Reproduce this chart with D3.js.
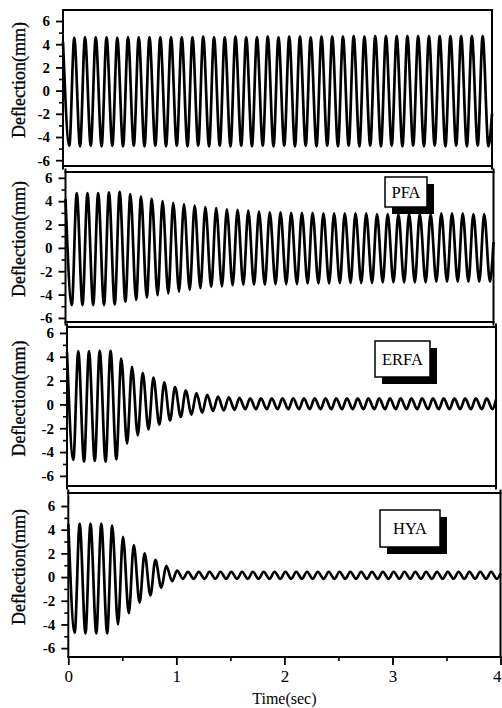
<!DOCTYPE html>
<html lang="en">
<head>
<meta charset="UTF-8">
<title>Deflection</title>
<style>
  body { margin: 0; background: #fff; }
  svg { display: block; }
  text { font-family: "Liberation Serif", "Times New Roman", serif; fill: #000; }
</style>
</head>
<body>
<script src="https://d3js.org/d3.v7.min.js"></script>
<script>
  // turning points of the response, in seconds: start, trough/peak pairs, end
  const timeSec = [
    0,
    0.059, 0.105, 0.159, 0.205, 0.259, 0.305, 0.360, 0.406, 0.460, 0.506, 0.560, 0.606, 0.660, 0.706, 0.760, 0.806, 0.861, 0.907, 0.961, 1.007,
    1.061, 1.107, 1.161, 1.207, 1.261, 1.307, 1.362, 1.408, 1.462, 1.508, 1.562, 1.608, 1.662, 1.708, 1.762, 1.808, 1.863, 1.909, 1.963, 2.009,
    2.063, 2.109, 2.163, 2.209, 2.263, 2.309, 2.364, 2.410, 2.464, 2.510, 2.564, 2.610, 2.664, 2.710, 2.764, 2.810, 2.865, 2.911, 2.965, 3.011,
    3.065, 3.111, 3.165, 3.211, 3.265, 3.311, 3.366, 3.412, 3.466, 3.512, 3.566, 3.612, 3.666, 3.712, 3.766, 3.812, 3.867, 3.913,
    3.967, 4.0
  ]

  // deflection (mm) at those turning points
  const noControl = [
    4.2,
    -4.75, 4.55, -4.8, 4.6, -4.75, 4.6, -4.8, 4.6, -4.75, 4.55, -4.8, 4.6, -4.75, 4.6, -4.8, 4.6, -4.75, 4.6, -4.8, 4.6,
    -4.75, 4.6, -4.8, 4.6, -4.75, 4.65, -4.8, 4.6, -4.75, 4.6, -4.8, 4.65, -4.75, 4.6, -4.8, 4.6, -4.75, 4.65, -4.8, 4.6,
    -4.75, 4.65, -4.8, 4.65, -4.75, 4.6, -4.8, 4.65, -4.75, 4.65, -4.8, 4.65, -4.75, 4.7, -4.8, 4.65, -4.75, 4.7, -4.8, 4.7,
    -4.75, 4.7, -4.8, 4.7, -4.75, 4.7, -4.8, 4.7, -4.75, 4.7, -4.8, 4.7, -4.75, 4.7, -4.8, 4.7, -4.75, 4.7,
    -4.8, -2.0
  ]

  const pfa = [
    4.2,
    -4.9, 4.7, -4.9, 4.7, -4.9, 4.7, -4.9, 4.75, -4.85, 4.8, -4.6, 4.6, -4.45, 4.4, -4.25, 4.2, -4.05, 4.0, -3.9, 3.85,
    -3.75, 3.75, -3.6, 3.65, -3.45, 3.5, -3.35, 3.4, -3.3, 3.3, -3.2, 3.25, -3.15, 3.2, -3.15, 3.1, -3.15, 3.05, -3.1, 3.05,
    -3.1, 3.0, -3.1, 3.0, -3.05, 3.0, -3.05, 2.95, -3.05, 2.95, -3.0, 2.95, -3.0, 2.95, -3.0, 2.95, -3.0, 2.9, -2.95, 2.9,
    -2.95, 2.9, -2.95, 2.9, -2.95, 2.9, -2.95, 2.9, -2.9, 2.95, -2.9, 2.95, -2.9, 2.95, -2.9, 2.9, -2.9, 2.9,
    -2.9, 0.5
  ]

  const erfa = [
    4.4,
    -4.65, 4.45, -4.8, 4.45, -4.75, 4.5, -4.8, 4.5, -4.6, 3.85, -3.3, 3.15, -2.6, 2.65, -2.1, 2.25, -1.7, 1.85, -1.35, 1.45,
    -1.05, 1.15, -0.85, 0.95, -0.7, 0.8, -0.55, 0.65, -0.5, 0.6, -0.45, 0.55, -0.4, 0.5, -0.4, 0.5, -0.4, 0.5, -0.4, 0.5,
    -0.4, 0.5, -0.4, 0.5, -0.4, 0.5, -0.4, 0.5, -0.4, 0.5, -0.4, 0.5, -0.4, 0.5, -0.4, 0.5, -0.4, 0.5, -0.4, 0.5,
    -0.4, 0.5, -0.4, 0.5, -0.4, 0.5, -0.4, 0.5, -0.4, 0.5, -0.4, 0.5, -0.4, 0.5, -0.4, 0.5, -0.4, 0.5,
    -0.4, 0.4
  ]

  const hya = [
    4.5,
    -4.7, 4.5, -4.75, 4.5, -4.75, 4.5, -4.75, 4.35, -4.0, 3.4, -3.05, 2.7, -2.15, 2.0, -1.55, 1.45, -0.9, 0.95, -0.35, 0.55,
    -0.15, 0.45, -0.15, 0.45, -0.15, 0.45, -0.15, 0.45, -0.15, 0.45, -0.15, 0.45, -0.15, 0.45, -0.15, 0.45, -0.15, 0.45, -0.15, 0.45,
    -0.15, 0.45, -0.15, 0.45, -0.15, 0.45, -0.15, 0.45, -0.15, 0.45, -0.15, 0.45, -0.15, 0.45, -0.15, 0.45, -0.15, 0.45, -0.15, 0.45,
    -0.15, 0.45, -0.15, 0.45, -0.15, 0.45, -0.15, 0.45, -0.15, 0.45, -0.15, 0.45, -0.15, 0.45, -0.15, 0.45, -0.15, 0.45,
    -0.15, 0.3
  ]

  const legendNames = [null, 'PFA', 'ERFA', 'HYA']
  const yTicks = [-6, -4, -2, 0, 2, 4, 6]
  const yMinorTicks = [-5, -3, -1, 1, 3, 5]
  const xTicks = [0, 1, 2, 3, 4]
  const xMinorTicks = [0.5, 1.5, 2.5, 3.5]
  const yLabel = 'Deflection(mm)'
  const xLabel = 'Time(sec)'

  const width = 502
  const height = 708

  // the scanned figure is a bit skewed, so each panel gets its own box
  const panels = [
    { top: 10, bottom: 166, left: 63, right: 492, yDomain: [-6.5, 6.95] },
    { top: 172, bottom: 322, left: 65.5, right: 493.5, yDomain: [-6.35, 6.5] },
    { top: 327, bottom: 486, left: 67, right: 496, yDomain: [-6.85, 6.5] },
    { top: 493, bottom: 657, left: 68.3, right: 500.5, yDomain: [-6.75, 7.1] }
  ]
  const legendBoxes = [null,
    { x: 385, y: 177, w: 42, h: 30 },
    { x: 375, y: 341, w: 55, h: 36 },
    { x: 380, y: 510, w: 60, h: 37 }]

  const allSeries = [noControl, pfa, erfa, hya]

  const svg = d3.select('body').append('svg')
    .attr('width', width)
    .attr('height', height)

  panels.forEach((p, i) => {
    const x = d3.scaleLinear().domain([0, 4]).range([p.left, p.right])
    const y = d3.scaleLinear().domain(p.yDomain).range([p.bottom, p.top])
    const g = svg.append('g')

    // response curve
    const line = d3.line()
      .x((d, j) => x(timeSec[j]))
      .y(d => y(d))
      .curve(d3.curveMonotoneX)

    g.append('path')
      .datum(allSeries[i])
      .attr('d', line)
      .attr('fill', 'none')
      .attr('stroke', '#000')
      .attr('stroke-width', 2.7)
      .attr('stroke-linejoin', 'round')

    // frame, side lines run into the gaps so they look continuous
    const yTop = i === 0 ? p.top : p.top - 3.5
    const yBot = i === panels.length - 1 ? p.bottom : p.bottom + 3.5
    const frame = g.append('g').attr('stroke', '#000').attr('stroke-width', 2)
    frame.append('line').attr('x1', p.left - 1).attr('x2', p.right + 1).attr('y1', p.top).attr('y2', p.top)
    frame.append('line').attr('x1', p.left - 1).attr('x2', p.right + 1).attr('y1', p.bottom).attr('y2', p.bottom)
    frame.append('line').attr('x1', p.left).attr('x2', p.left).attr('y1', yTop).attr('y2', yBot)
    frame.append('line').attr('x1', p.right).attr('x2', p.right).attr('y1', yTop).attr('y2', yBot)

    // y axis
    g.append('g')
      .attr('transform', `translate(${p.left},0)`)
      .call(d3.axisLeft(y).tickValues(yTicks).tickSize(7).tickPadding(6).tickFormat(d => String(d)))
      .attr('font-family', null)
      .attr('font-size', 15)
      .call(a => a.select('.domain').remove())
      .call(a => a.selectAll('line').attr('stroke-width', 1.8))
      .call(a => a.selectAll('text').attr('font-weight', 'bold'))

    g.append('g')
      .attr('transform', `translate(${p.left},0)`)
      .call(d3.axisLeft(y).tickValues(yMinorTicks).tickSize(4).tickFormat(''))
      .call(a => a.select('.domain').remove())
      .call(a => a.selectAll('line').attr('stroke-width', 1.6))

    g.append('text')
      .attr('transform', `translate(19,${(p.top + p.bottom) / 2 - 8}) rotate(-90)`)
      .attr('text-anchor', 'middle')
      .attr('dy', '0.35em')
      .attr('font-size', 18)
      .attr('stroke', '#000')
      .attr('stroke-width', 0.3)
      .text(yLabel)

    // x axis only under the last panel
    if (i === panels.length - 1) {
      g.append('g')
        .attr('transform', `translate(0,${p.bottom})`)
        .call(d3.axisBottom(x).tickValues(xTicks).tickSize(8).tickPadding(5).tickFormat(d => String(d)))
        .attr('font-family', null)
        .attr('font-size', 17)
        .call(a => a.select('.domain').remove())
        .call(a => a.selectAll('line').attr('stroke-width', 1.8))
        // the last label sits at the page edge, keep it inside
        .call(a => a.selectAll('.tick text').filter(d => d === 4)
          .attr('text-anchor', 'end').attr('x', width - 1 - x(4)))

      g.append('g')
        .attr('transform', `translate(0,${p.bottom})`)
        .call(d3.axisBottom(x).tickValues(xMinorTicks).tickSize(4).tickFormat(''))
        .call(a => a.select('.domain').remove())
        .call(a => a.selectAll('line').attr('stroke-width', 1.6))

      g.append('text')
        .attr('x', x(2))
        .attr('y', 704)
        .attr('text-anchor', 'middle')
        .attr('font-size', 16)
        .text(xLabel)
    }

    // legend box with drop shadow
    const box = legendBoxes[i]
    if (box) {
      const lg = g.append('g')
      lg.append('rect')
        .attr('x', box.x + 7).attr('y', box.y + 7)
        .attr('width', box.w).attr('height', box.h)
        .attr('fill', '#000')
      lg.append('rect')
        .attr('x', box.x).attr('y', box.y)
        .attr('width', box.w).attr('height', box.h)
        .attr('fill', '#fff')
        .attr('stroke', '#000')
        .attr('stroke-width', 1.5)
      lg.append('text')
        .attr('x', box.x + box.w / 2)
        .attr('y', box.y + box.h / 2)
        .attr('dy', '0.35em')
        .attr('text-anchor', 'middle')
        .attr('font-size', 16.5)
        .text(legendNames[i])
    }
  })
</script>
</body>
</html>
